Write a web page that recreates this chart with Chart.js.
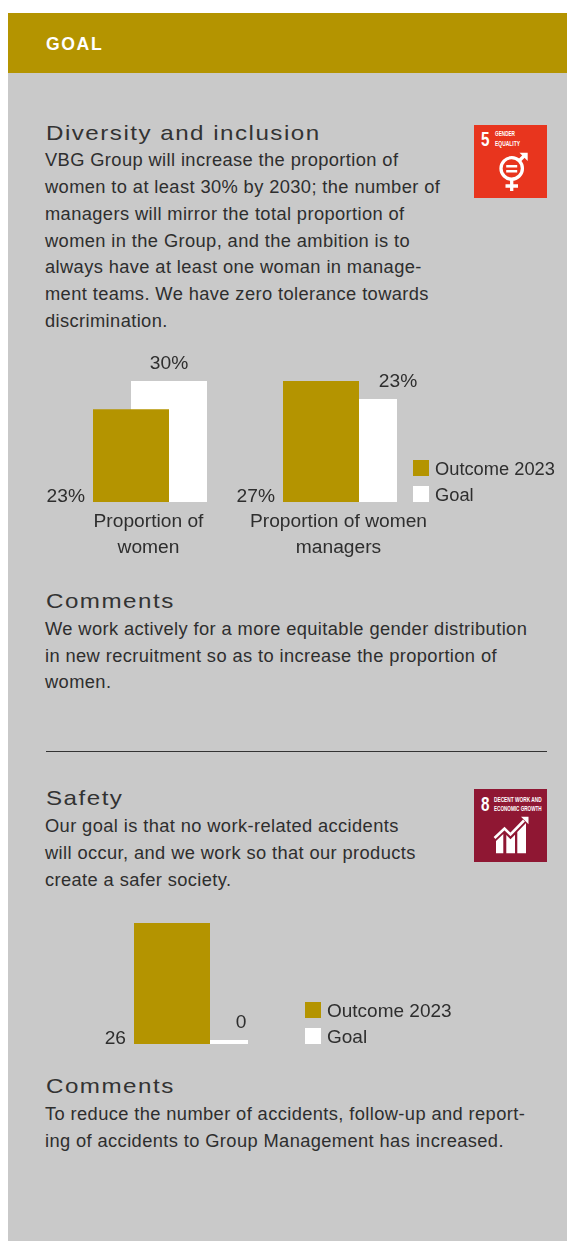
<!DOCTYPE html>
<html lang="en">
<head>
<meta charset="utf-8">
<title>Goal: diversity and safety</title>
<script src="https://cdn.jsdelivr.net/npm/chart.js@4"></script>
<style>
  html, body { margin: 0; padding: 0; background: #fff; }
  body { position: relative; width: 567px; height: 1241px; overflow: hidden;
         font-family: "Liberation Sans", Arial, sans-serif; color: #2e2e2e; }
  .panel { position: absolute; left: 8px; top: 13px; width: 559px; height: 1228px; background: #c9c9c9; }
  .band { position: absolute; left: 8px; top: 13px; width: 559px; height: 60px; background: #b49400; }
  .band span { position: absolute; left: 38px; top: 21px; color: #fff; font-weight: 700; font-size: 17.6px; line-height: 20px; letter-spacing: 1.6px; }
  .h { position: absolute; left: 46px; font-size: 21px; line-height: 24px; letter-spacing: 1.3px; white-space: nowrap; color: #333;
       transform: scaleX(1.15); transform-origin: left center; }
  .t { position: absolute; left: 45px; margin-top: -1px; font-size: 18.3px; line-height: 27px; letter-spacing: 0.39px; white-space: nowrap; }
  .rule { position: absolute; left: 46px; top: 751px; width: 501px; height: 1px; background: #333; }
  canvas { position: absolute; left: 0; }
  .legend { position: absolute; margin: 0; padding: 0; list-style: none; }
  .legend li { position: relative; height: 26px; line-height: 26px; white-space: nowrap; padding-left: 22px; }
  .legend i { position: absolute; left: 0; top: 10px; width: 16px; height: 16px; }
  .legend span { position: relative; top: 6px; display: block; line-height: 26px; }
  svg.sdg { position: absolute; left: 474px; width: 73px; height: 73px; }
</style>
</head>
<body>
<div class="panel"></div>
<div class="band"><span>GOAL</span></div>

<div class="h" style="top:121px">Diversity and inclusion</div>
<div class="t" style="top:147px">VBG Group will increase the proportion of</div>
<div class="t" style="top:174px">women to at least 30% by 2030; the number of</div>
<div class="t" style="top:201px">managers will mirror the total proportion of</div>
<div class="t" style="top:228px">women in the Group, and the ambition is to</div>
<div class="t" style="top:254px">always have at least one woman in manage-</div>
<div class="t" style="top:281px">ment teams. We have zero tolerance towards</div>
<div class="t" style="top:308px">discrimination.</div>

<svg class="sdg" style="top:125px" viewBox="0 0 73 73">
  <rect width="73" height="73" fill="#e8351e"/>
  <text x="7" y="20.7" fill="#fff" font-family="Liberation Sans" font-weight="700" font-size="20.8" textLength="8.5" lengthAdjust="spacingAndGlyphs">5</text>
  <text x="21" y="11.3" fill="#fff" font-family="Liberation Sans" font-weight="700" font-size="6.5" textLength="20" lengthAdjust="spacingAndGlyphs">GENDER</text>
  <text x="21" y="20.7" fill="#fff" font-family="Liberation Sans" font-weight="700" font-size="6.5" textLength="25" lengthAdjust="spacingAndGlyphs">EQUALITY</text>
  <g fill="none" stroke="#fff" stroke-width="3.3">
    <circle cx="37.7" cy="43.4" r="10.7"/>
    <path d="M37.7 54v12M31.5 61h12.5M45 36l6-6"/>
  </g>
  <path d="M45.5 27.7h8.2v8.2z" fill="#fff"/>
  <path d="M32.2 40h11v2.4h-11zM32.2 45h11v2.4h-11z" fill="#fff"/>
</svg>

<canvas id="diversityChart" width="567" height="230" style="top:340px"></canvas>
<ul class="legend" id="diversityLegend" style="left:413px;top:450px;font-size:18.3px"></ul>

<div class="h" style="top:589px">Comments</div>
<div class="t" style="top:616px">We work actively for a more equitable gender distribution</div>
<div class="t" style="top:643px">in new recruitment so as to increase the proportion of</div>
<div class="t" style="top:669px">women.</div>

<div class="rule"></div>

<div class="h" style="top:786px">Safety</div>
<div class="t" style="top:813px">Our goal is that no work-related accidents</div>
<div class="t" style="top:840px">will occur, and we work so that our products</div>
<div class="t" style="top:867px">create a safer society.</div>

<svg class="sdg" style="top:789px" viewBox="0 0 73 73">
  <rect width="73" height="73" fill="#8f1733"/>
  <text x="7" y="21.7" fill="#fff" font-family="Liberation Sans" font-weight="700" font-size="20.8" textLength="8.5" lengthAdjust="spacingAndGlyphs">8</text>
  <text x="20" y="12.7" fill="#fff" font-family="Liberation Sans" font-weight="700" font-size="6.5" textLength="47.7" lengthAdjust="spacingAndGlyphs">DECENT WORK AND</text>
  <text x="20" y="21.7" fill="#fff" font-family="Liberation Sans" font-weight="700" font-size="6.5" textLength="47.7" lengthAdjust="spacingAndGlyphs">ECONOMIC GROWTH</text>
  <path d="M22 52l7.3-7v19.3H22zM32.3 46l4.2 4.2 4.5-4.5v18.6h-8.7zM43.3 43l8.7-9v30.3h-8.7z" fill="#fff"/>
  <path d="M20.5 49l10-9.5 6 6L50 31.5" fill="none" stroke="#fff" stroke-width="2.6"/>
  <path d="M47 27.7h7.5v7.5z" fill="#fff"/>
</svg>

<canvas id="safetyChart" width="567" height="140" style="top:915px"></canvas>
<ul class="legend" id="safetyLegend" style="left:305px;top:992px;font-size:19px"></ul>

<div class="h" style="top:1074px">Comments</div>
<div class="t" style="top:1101px">To reduce the number of accidents, follow-up and report-</div>
<div class="t" style="top:1128px">ing of accidents to Group Management has increased.</div>

<script>
// Diversity figures: each category is read on its own percentage scale.
const diversityCategories = [['Proportion of', 'women'], ['Proportion of women', 'managers']];
const womenOutcome = [23, null];
const womenGoal = [30, null];
const managersOutcome = [null, 27];
const managersGoal = [null, 23];

// Safety figures: accident count against the goal.
const safetyCategories = [''];
const accidentsOutcome = [26];
const accidentsGoal = [0];

const OUTCOME_LABEL = 'Outcome 2023';
const GOAL_LABEL = 'Goal';
const GOLD = '#b49400';
const WHITE = '#ffffff';
const INK = '#2e2e2e';
const FONT = '"Liberation Sans", Arial, sans-serif';

// Prints the value beside each bar: outcomes at the foot of the bar's left edge,
// goals above the bar, nudged by the per-dataset offset.
const valueLabels = {
  id: 'valueLabels',
  afterDatasetsDraw(chart, args, opts) {
    const ctx = chart.ctx;
    ctx.save();
    ctx.font = '19.2px ' + FONT;
    ctx.fillStyle = INK;
    ctx.textBaseline = 'alphabetic';
    chart.data.datasets.forEach((ds, i) => {
      chart.getDatasetMeta(i).data.forEach((bar, j) => {
        const v = ds.data[j];
        if (v === null) return;
        const text = v + opts.suffix;
        if (ds.role === 'outcome') {
          ctx.textAlign = 'right';
          ctx.fillText(text, bar.x - bar.width / 2 - 8, bar.base);
        } else {
          ctx.textAlign = 'center';
          ctx.fillText(text, bar.x + ds.labelDx, bar.y - 12);
        }
      });
    });
    ctx.restore();
  }
};

function barOptions(extraScales, padding, suffix) {
  return {
    responsive: false,
    animation: false,
    layout: { padding },
    plugins: { legend: { display: false }, tooltip: { enabled: false }, valueLabels: { suffix } },
    scales: Object.assign({
      x: {
        grid: { display: false, drawTicks: false },
        border: { display: false },
        ticks: {
          color: INK, padding: 7, autoSkip: false, maxRotation: 0, labelOffset: -1.5,
          font: { family: FONT, size: 19.2, lineHeight: 26 / 19.2 }
        }
      }
    }, extraScales)
  };
}

function hiddenScale(max) {
  return { display: false, min: 0, max };
}

// Overlapping pair of bars: a narrow slot with bars twice the slot's width.
const barShape = { categoryPercentage: 0.4, barPercentage: 2 };

new Chart(document.getElementById('diversityChart'), {
  type: 'bar',
  data: {
    labels: diversityCategories,
    datasets: [
      Object.assign({ label: OUTCOME_LABEL, role: 'outcome', data: womenOutcome, backgroundColor: GOLD, yAxisID: 'women', stack: 'outcome' }, barShape),
      Object.assign({ label: GOAL_LABEL, role: 'goal', labelDx: 0, data: womenGoal, backgroundColor: WHITE, yAxisID: 'women', stack: 'goal' }, barShape),
      Object.assign({ label: OUTCOME_LABEL, role: 'outcome', data: managersOutcome, backgroundColor: GOLD, yAxisID: 'managers', stack: 'outcome' }, barShape),
      Object.assign({ label: GOAL_LABEL, role: 'goal', labelDx: 39, data: managersGoal, backgroundColor: WHITE, yAxisID: 'managers', stack: 'goal' }, barShape)
    ]
  },
  options: barOptions(
    { women: hiddenScale(30), managers: hiddenScale(27) },
    { left: 55, right: 132, top: 41, bottom: 2 },
    '%'
  ),
  plugins: [valueLabels]
});

new Chart(document.getElementById('safetyChart'), {
  type: 'bar',
  data: {
    labels: safetyCategories,
    datasets: [
      Object.assign({ label: OUTCOME_LABEL, role: 'outcome', data: accidentsOutcome, backgroundColor: GOLD }, barShape),
      Object.assign({ label: GOAL_LABEL, role: 'goal', labelDx: 31, data: accidentsGoal, backgroundColor: WHITE, minBarLength: 4 }, barShape)
    ]
  },
  options: (function () {
    const o = barOptions({ y: hiddenScale(26) }, { left: 96, right: 281, top: 8, bottom: 11 }, '');
    o.scales.x.ticks.display = false;
    return o;
  })(),
  plugins: [valueLabels]
});

// Legend list built from the series names and colours.
function fillLegend(id, entries) {
  const list = document.getElementById(id);
  entries.forEach(([name, colour]) => {
    const li = document.createElement('li');
    const swatch = document.createElement('i');
    swatch.style.background = colour;
    const text = document.createElement('span');
    text.textContent = name;
    li.append(swatch, text);
    list.append(li);
  });
}
const legendEntries = [[OUTCOME_LABEL, GOLD], [GOAL_LABEL, WHITE]];
fillLegend('diversityLegend', legendEntries);
fillLegend('safetyLegend', legendEntries);
</script>
</body>
</html>
